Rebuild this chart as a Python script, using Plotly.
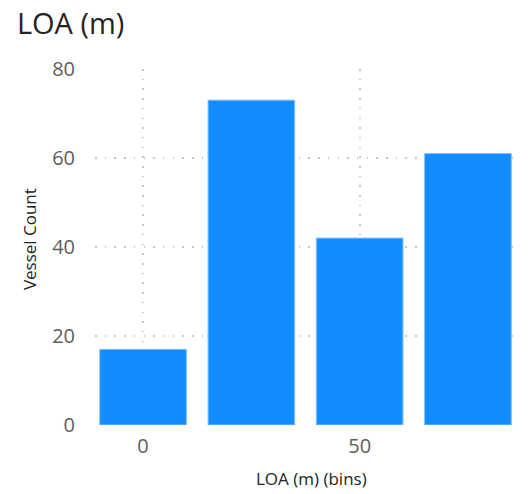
import plotly.graph_objects as go

bins = [0, 25, 50, 75]
counts = [17, 73, 42, 61]
x_ticks = [0, 50]
y_ticks = [0, 20, 40, 60, 80]

FONT = "Open Sans"
GRID = dict(showgrid=True, gridcolor="#C6C6C6", griddash="1.5px,8.2px", gridwidth=1.5)

fig = go.Figure(go.Bar(
    x=bins, y=counts, width=20,
    marker=dict(color="#118DFF", line=dict(color="#7FBFFF", width=1)),
))

fig.update_layout(
    width=528, height=494,
    margin=dict(l=95, r=15, t=69, b=69),
    paper_bgcolor="white", plot_bgcolor="white",
    font=dict(family=FONT, color="#605E5C"),
    showlegend=False,
    title=dict(text="LOA (m)", x=0.032, xanchor="left", y=0.952, yanchor="middle",
               font=dict(family=FONT, size=29, color="#252423")),
    annotations=[
        dict(text="LOA (m) (bins)", xref="paper", yref="paper", x=0.518, y=-0.149,
             xanchor="center", yanchor="middle", showarrow=False,
             font=dict(family=FONT, size=17, color="#252423")),
        dict(text="Vessel Count", xref="paper", yref="paper", x=-0.158, y=0.522,
             xanchor="center", yanchor="middle", showarrow=False, textangle=-90,
             font=dict(family=FONT, size=17, color="#252423")),
    ],
)
fig.update_xaxes(
    range=[-11.1, 85.4], tickvals=x_ticks, ticktext=[str(v) for v in x_ticks],
    zeroline=False, showline=False, ticks="", ticklabelstandoff=7,
    tickfont=dict(size=20, color="#605E5C"),
    **GRID,
)
fig.update_yaxes(
    range=[0, 80], tickvals=y_ticks,
    zeroline=False, showline=False, ticks="", ticklabelstandoff=19,
    tickfont=dict(size=20, color="#605E5C"),
    **GRID,
)

fig.write_html("out.html")
